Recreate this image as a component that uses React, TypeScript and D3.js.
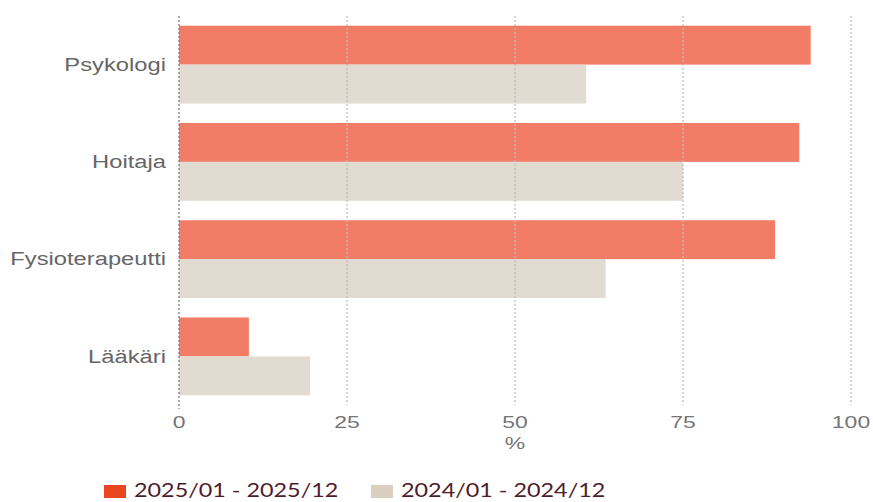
import { useEffect, useRef } from "react";
import * as d3 from "d3";

const categories = ["Psykologi", "Hoitaja", "Fysioterapeutti", "Lääkäri"];
const series = ["2025/01 - 2025/12", "2024/01 - 2024/12"];
const values2025 = [94, 92.3, 88.7, 10.4];
const values2024 = [60.6, 75, 63.5, 19.5];
const xTicks = [0, 25, 50, 75, 100];

const W = 873;
const H = 502;
const barColors = ["#f27d66", "#e2dbd1"];
const legendColors = ["#e9461f", "#d8cfc1"];
const font = "Liberation Sans, Arial, sans-serif";
// the reference text looks stretched sideways
const stretch = 1.35;

const App = () => {
  const svgRef = useRef<SVGSVGElement>(null);

  useEffect(() => {
    if (!svgRef.current) return;
    const svg = d3.select(svgRef.current);
    svg.selectAll("*").remove();

    const x = d3.scaleLinear().domain([0, 100]).range([179, 851]);
    const y = d3
      .scaleBand()
      .domain(categories)
      .range([16, 405])
      .paddingInner(0.2)
      .paddingOuter(0.1);
    const sub = d3.scaleBand().domain(series).range([0, y.bandwidth()]);

    const rows = categories.map((c, i) => ({ c, v: [values2025[i], values2024[i]] }));

    // bars
    const g = svg.append("g");
    rows.forEach((r) => {
      r.v.forEach((v, k) => {
        g.append("rect")
          .attr("x", x(0))
          .attr("y", (y(r.c) ?? 0) + (sub(series[k]) ?? 0))
          .attr("width", x(v) - x(0))
          .attr("height", sub.bandwidth())
          .attr("fill", barColors[k]);
      });
    });

    // gridlines on top of bars
    svg
      .selectAll(".grid")
      .data(xTicks.slice(1))
      .enter()
      .append("line")
      .attr("x1", (d) => x(d))
      .attr("x2", (d) => x(d))
      .attr("y1", 16)
      .attr("y2", 405)
      .attr("stroke", "#bdbdbd")
      .attr("stroke-width", 1.2)
      .attr("stroke-dasharray", "2,2");

    svg
      .append("line")
      .attr("x1", x(0))
      .attr("x2", x(0))
      .attr("y1", 16)
      .attr("y2", 409)
      .attr("stroke", "#777")
      .attr("stroke-width", 1.2)
      .attr("stroke-dasharray", "2,2");

    // tick labels
    svg
      .selectAll(".tick")
      .data(xTicks)
      .enter()
      .append("g")
      .attr("transform", (d) => `translate(${x(d)},428) scale(${stretch},1)`)
      .append("text")
      .attr("text-anchor", "middle")
      .attr("fill", "#757575")
      .attr("font-size", 17)
      .attr("font-family", font)
      .text((d) => d);

    svg
      .append("g")
      .attr("transform", `translate(${x(50)},449) scale(${stretch},1)`)
      .append("text")
      .attr("text-anchor", "middle")
      .attr("fill", "#757575")
      .attr("font-size", 17)
      .attr("font-family", font)
      .text("%");

    // category labels
    svg
      .selectAll(".cat")
      .data(categories)
      .enter()
      .append("g")
      .attr(
        "transform",
        (d) => `translate(166,${(y(d) ?? 0) + y.bandwidth() / 2}) scale(1.32,1)`
      )
      .append("text")
      .attr("dy", "0.35em")
      .attr("text-anchor", "end")
      .attr("fill", "#666")
      .attr("font-size", 18)
      .attr("font-family", font)
      .text((d) => d);

    // legend
    const legendX = [104, 371];
    series.forEach((s, k) => {
      svg
        .append("rect")
        .attr("x", legendX[k])
        .attr("y", 485)
        .attr("width", 22)
        .attr("height", 13)
        .attr("fill", legendColors[k]);
      svg
        .append("g")
        .attr("transform", `translate(${legendX[k] + 30},497) scale(1.23,1)`)
        .append("text")
        .attr("fill", "#4e1c2c")
        .attr("font-size", 19)
        .attr("font-family", "Lato, sans-serif")
        .text(s);
    });
  }, []);

  return (
    <svg
      ref={svgRef}
      width={W}
      height={H}
      style={{ position: "absolute", left: 0, top: 0, background: "#fff" }}
    />
  );
};

export default App;
